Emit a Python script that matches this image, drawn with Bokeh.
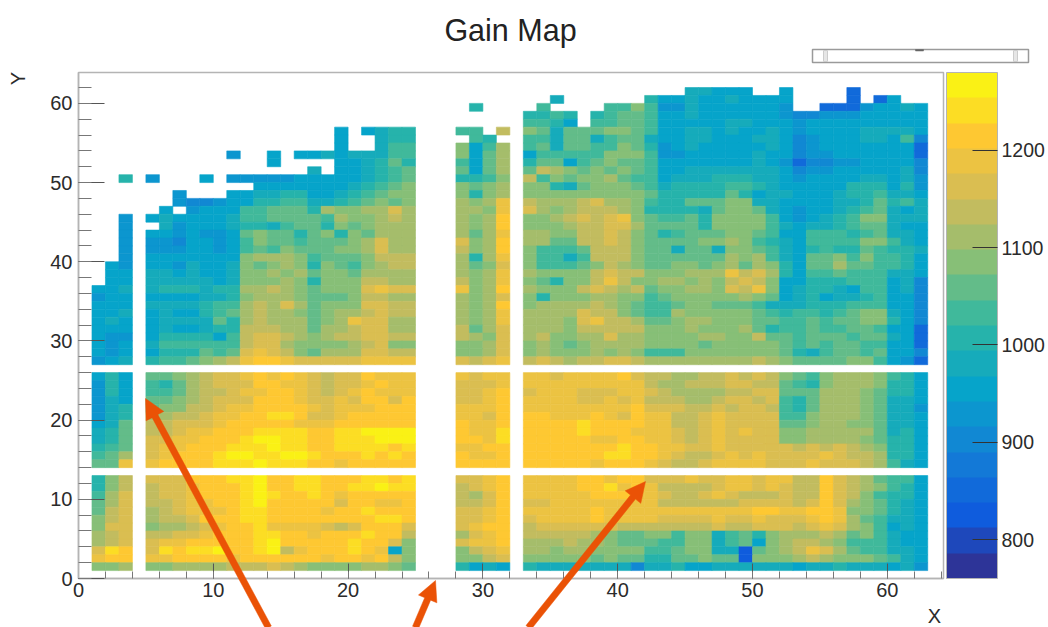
from bokeh.core.properties import value
from bokeh.embed import file_html
from bokeh.layouts import column
from bokeh.models import ColorBar, ColumnDataSource, FixedTicker, LinearColorMapper
from bokeh.plotting import figure
from bokeh.resources import INLINE
import numpy as np

TITLE = "Gain Map"
X_TICKS = [0, 10, 20, 30, 40, 50, 60]
Y_TICKS = [0, 10, 20, 30, 40, 50, 60]
BAR_TICKS = [800, 900, 1000, 1100, 1200]
GAIN_LOW = 760
GAIN_HIGH = 1280
LEVELS = "0123456789abcdefghij"   # 20 contour levels, one character per cell, "." = empty
BLUE_CORRECTION = str.maketrans("456", "567")   # second reading of the blue shades against the colour bar

# each block maps a Y bin to the contour level of its X bins
BLOCK_X1 = {
50:"..9",45:"..5",44:"..5",43:"..5",42:"..5",41:"..5",40:"..5",39:".65",38:".66",37:".77",
36:"778",35:"576",34:"677",33:"678",32:"686",31:"766",30:"755",29:"656",28:"656",27:"568",
25:"697",24:"597",23:"597",22:"587",21:"589",20:"589",19:"78b",18:"89b",17:"89b",16:"9ab",15:"abd",14:"bbg",
12:"9ce",11:"9ce",10:"adf",9:"bdf",8:"bef",7:"cef",6:"cff",5:"def",4:"def",3:"fih",2:"ghh",1:"ccd",
}
BLOCK_X5 = {
56:"..............6.7899",55:"..............6..899",54:"..............6..8aa",
53:"......5..6.6686888aa",52:".........6....6789b9",51:"............8.6789ab",
50:"5...6.555556676789ab",49:"........777767789abc",48:"..5...7788997789abcc",
47:"..54456699aa889abcbc",46:".7.5676aabbb9dccddfd",45:"6866778aabbbbadccded",
44:".856678998abb9cbcddd",43:"7756556bcbb9bc9cbddd",42:"5546657acbbabbbcdfdd",
41:"5556657abacbbbccdfdd",40:"7767767cdddcabbbceee",39:"7758778cbcdc9cbacdee",
38:"8878778ccdcdbccbdddd",37:"8888878cccdc9ccceedd",36:"8999899ddedcbcccfgff",
35:"7777889cdddcbbbceedd",34:"88889aadedfdbcccffee",33:"78779abdeddcbcddefee",
32:"78888b9dedddbcdgffdd",31:"7866899eeeddbddeffdd",30:"799997aeffedcdeeffee",
29:"8aaaaaaeffdccccdefcc",28:"7999babfgfecbdddffee",27:"9aabcdeghhgfffffgggg",
25:"bbcdeffghghgfeffhggg",24:"a9bdefffhhggfeffghgg",23:"aabdeefgghhgfefghggg",
22:"bbcdefffhhhgffgfhhfh",21:"bcceefgghhhhgfggghhh",20:"ddeefgghhiihffghhhhh",
19:"eefffghhhhhggghhhhhh",18:"eefgghhhiiiihhiijjjj",17:"ffgghhhijjiihhiiijjj",
16:"fgghhhiiijiihhiiiihi",15:"fghhhijjiijjihhhihih",14:"ghhhhiiijiiihhghhhhh",
12:"fffhhhiijhhiihhhiihi",11:"effghhhijhhiihhiijii",10:"effghhhijihhihghhhhh",
9:"eefgghhijhhhhhfhhggh",8:"defggghiihhhhghhihhh",7:"deefhhhiihhhhhhhhiih",
6:"cddefghhiggggfefhhhf",5:"eeffghhhiihhghhhihhe",4:"fgghhhhhijhhhhhihhfc",
3:"fihiijhhijeghhhihg7c",2:"gghhhhghhhhhhghhghec",1:"ccddddeeefedccccddcb",
}
BLOCK_X28 = {
59:".9..",56:"aa.e",55:".a9.",54:"c7ad",53:"c7bd",52:"a7bd",51:"b7bd",50:"99ac",49:"cbcd",48:"c9cd",
47:"dcdg",46:"ddcg",45:"dcdh",44:"dcdh",43:"dbdg",42:"fcdh",41:"ecdh",40:"d9dg",39:"dbcf",38:"dcdg",
37:"ecdg",36:"gcdh",35:"dcdf",34:"dcdh",33:"dcdg",32:"dcdg",31:"ebdf",30:"edcf",29:"ccdf",28:"ccdf",27:"fefg",
25:"gfgg",24:"fffg",23:"ffgh",22:"ffgh",21:"gggh",20:"ggfh",19:"hggh",18:"hggi",17:"hhgi",16:"gghh",15:"hggh",14:"hhhh",
12:"ffgh",11:"efgh",10:"edfh",9:"eefh",8:"ffgh",7:"ffgh",6:"fghh",5:"dfgh",4:"fggh",3:"cefg",2:"ccef",1:"9787",
}
BLOCK_X33 = {
61:"............88767..7....3.....",60:"..8......97787787776....3.36..",
59:".a....aaca5587677775..33357787",58:"99a9.9abba66876777754455567776",
57:"aa97.aabba77766886765666677776",56:"cb8bbbccba 6788787786 5677788886",
55:"aa8bb8abb8 6788777886 45677887a4",54:"ab8bbaacb9 5687676786 4566677773",
53:"7aaaaaccca 5576676876 4556667773",52:"9bb7abcbba 6676777875 3445566774",
51:"bedcbcbcba 7788888886 4556677684",50:"eacbccdbaa 7888999887 5666788785",
49:"cc98bcccba 89999aa987 6677999795",48:"cccccccccb 99999b9788 677899a886",
47:"edddefddca 99bbbcc887 666889b9a8",46:"fdcdeeedc9 9998bccb87 56789ab878",
45:"ccdefefgcb aab9cccca7 5789acc888",44:"cccdeeffdb bbb9cccca8 7889abb877",
43:"ddcceefecb 9abbbccba7 6aaa9ab886",42:"ddbbeefecb bbbccdca98 7aaaacca87",
41:"caaabeeecb b8bb8ccba8 79a99ba998",40:"caa8aeeecb bbbbbdcda8 6bbcacaa97",
39:"caaabcedcb bccbcdbdc9 7bbdbbaa97",38:"dccccefeec ccdddgefd9 7aabaaa886",
37:"cb9ccegecc ddcdcefec6 7999aaa784",36:"dcccefedeb ccddcfegc7 89987aa784",
35:"c9cccddcca bcccccdcb7 897889a674",34:"cddddedcba abccbbba88 8999aaa774",
33:"ddddfeecba adcccccba9 aa9abcc874",32:"dddcfgeedb bcddcccbba ababbcc974",
31:"dddceeeeec ccdcccdb9a abaabba763",30:"deccddfddc cccddccebb abbbabb863",
29:"cdcbcddddc cccbcccccb ababbaa763",28:"cdcccdcdca aacccccccb 98abbab764",
27:"efedeeffed dddddddedc bbbbcca653",
25:"ggfgggghfe eddeefefec bacdddca96",24:"ggggggggge ddeeeffeeb a9cdddc996",
23:"fgggfffggf eddddeeffb bbdddcb996",22:"ggggffgfge eeddeffefa 9bdddcb886",
21:"gggggggghf ffeefeffea 9bdddcb885",20:"hhggghgfhg geefgffffa acdddcb886",
19:"hhhhihhhhg geefgffffb bcddccb886",18:"hhhhihhhgg gfefgfgffc cdddddb896",
17:"hhhhhgghhg gfefgffffc cddddcb996",16:"hhhhhhhihh ggffgfffff efefedc996",
15:"hhhhhhiihh gfeefgfgff ffgfeed996",14:"hhhhhghhhg feefggggff fgfffeda86",
12:"gggghhghhf ffgffggfgg eehfedbaa6",11:"gggghhighg eeeefggfgf eehfedca96",
10:"ggggghhhgg feefgfeeef eehfeca996",9:"ffgggggggg eeeeeeffff efhfdcb986",
8:"ggggghgggg ggggggghhg ghhgccb986",7:"fgggghgggg ffffgffgff fghgdba886",
6:"effffffeee eeeefeefff efgfdca786",5:"eeeeedcbbc cacc8ab9cd ddedbca876",
4:"dddeddcbbb aacc8ab7cd eedcaaa876",3:"ddcddcccca abcc882bcd egfdbaa886",
2:"cccccbcbb9 9bbcbb2ccc dedcccba86",1:"9888888848 8977888888 7889888785",
}
BLOCKS = [(1, 3, BLOCK_X1), (5, 20, BLOCK_X5), (28, 4, BLOCK_X28), (33, 30, BLOCK_X33)]

# annotation arrows on the page, in pixels: x_tip, y_tip, x_tail, y_tail
ARROWS = [(145, 398, 268, 627), (435, 580, 415, 627), (645, 481, 528, 627)]

# ROOT kBird palette anchors
R = [0.2082, 0.0592, 0.0780, 0.0232, 0.1802, 0.5301, 0.8186, 0.9956, 0.9764]
G = [0.1664, 0.3599, 0.5041, 0.6419, 0.7178, 0.7492, 0.7328, 0.7862, 0.9832]
B = [0.5293, 0.8684, 0.8385, 0.7914, 0.6425, 0.4662, 0.3499, 0.1968, 0.0539]
stops = np.linspace(0, 1, 9)
pos = (np.arange(20) + 0.5) / 20
palette = ["#%02x%02x%02x" % tuple(int(round(255 * np.interp(t, stops, c))) for c in (R, G, B)) for t in pos]

step = (GAIN_HIGH - GAIN_LOW) / len(LEVELS)
xs, ys, vals = [], [], []
for x0, n, block in BLOCKS:
    for row, text in block.items():
        text = text.replace(" ", "")[:n].translate(BLUE_CORRECTION)
        for i, ch in enumerate(text):
            if ch != ".":
                xs.append(x0 + i + 0.5)
                ys.append(row + 0.5)
                vals.append(GAIN_LOW + step * (LEVELS.index(ch) + 0.5))

FONT = "Liberation Sans"
TEXT = "#2b2b2b"
FRAME = "#b4b4b4"
ORANGE = "#ea5206"

mapper = LinearColorMapper(palette=palette, low=GAIN_LOW, high=GAIN_HIGH)
p = figure(frame_width=865, frame_height=506, x_range=(0, 64.17), y_range=(0, 63.9),
           output_backend="svg", toolbar_location=None, tools="", frame_align=False,
           min_border_left=78, min_border_top=72, min_border_bottom=49, min_border_right=6,
           background_fill_color="white", border_fill_color="white")
p.grid.visible = False
p.outline_line_color = FRAME
p.outline_line_width = 1.5

src = ColumnDataSource(dict(x=xs, y=ys, v=vals))
p.rect("x", "y", width=1, height=1, source=src,
       fill_color={"field": "v", "transform": mapper},
       line_color={"field": "v", "transform": mapper}, line_width=0.6)

minor = list(range(0, 65, 2))
for axis, ticks, major_len in ((p.xaxis[0], X_TICKS, 15), (p.yaxis[0], Y_TICKS, 26)):
    axis.ticker = FixedTicker(ticks=ticks, minor_ticks=minor)
    axis.major_tick_in = major_len
    axis.major_tick_out = 0
    axis.minor_tick_in = major_len // 2
    axis.minor_tick_out = 0
    axis.axis_line_color = FRAME
    axis.axis_line_width = 1.5
    axis.major_tick_line_color = "#555555"
    axis.minor_tick_line_color = "#777777"
    axis.major_label_text_font = FONT
    axis.major_label_text_font_size = "20px"
    axis.major_label_text_color = TEXT
    axis.major_label_standoff = 6
p.xaxis[0].major_label_standoff = 4
p.yaxis[0].major_label_orientation = "horizontal"

bar = ColorBar(color_mapper=mapper, ticker=FixedTicker(ticks=BAR_TICKS), width=51, height=506, padding=0, margin=0,
               location=(3, 0), major_tick_in=25, major_tick_out=0, major_tick_line_color="#333333",
               minor_tick_line_color=None, bar_line_color=FRAME, label_standoff=4,
               major_label_text_font=FONT, major_label_text_font_size="19.5px", major_label_text_color=TEXT)
p.add_layout(bar, "right")

# transparent page-sized layer: title, arrows, axis letters and the widget leave the plotting frame
ov = figure(width=1048, height=627, x_range=(0, 1048), y_range=(627, 0), frame_align=False,
            x_axis_type=None, y_axis_type=None, output_backend="svg", toolbar_location=None, tools="",
            min_border=0, background_fill_color=None, border_fill_color=None, outline_line_color=None,
            margin=(-627, 0, 0, 0))
ov.grid.visible = False

ax_list, ay_list = [], []
for xt, yt, xa, ya in ARROWS:
    dx, dy = xa - xt, ya - yt
    ln = float(np.hypot(dx, dy))
    ux, uy = dx / ln, dy / ln
    nx, ny = -uy, ux
    pts = [(0, 0), (20, 10), (20, 3.2), (ln, 3.2), (ln, -3.2), (20, -3.2), (20, -10)]
    ax_list.append([xt + a * ux + b * nx for a, b in pts])
    ay_list.append([yt + a * uy + b * ny for a, b in pts])
ov.patches(ax_list, ay_list, fill_color=ORANGE, line_color=ORANGE, line_width=0.5)

ov.text([510], [29], text=[TITLE], text_font=value(FONT), text_font_size="30.5px", text_color="#222222",
        text_align="center", text_baseline="middle")
ov.text([934], [615], text=["X"], text_font=value(FONT), text_font_size="20px", text_color=TEXT,
        text_align="center", text_baseline="middle")
ov.text([17], [78], text=["Y"], text_font=value(FONT), text_font_size="20px", text_color=TEXT,
        text_align="center", text_baseline="middle", angle=np.pi / 2)

ov.quad(left=[812], right=[1028], top=[49], bottom=[62], fill_color="white", line_color="#9a9a9a", line_width=1.5)
ov.quad(left=[823, 1013], right=[827, 1017], top=[50, 50], bottom=[61, 61], fill_color="#e6e6e6", line_color="#cccccc")
ov.quad(left=[915], right=[923], top=[49], bottom=[50.5], fill_color="#666666", line_color="#666666", line_width=0.5)

page = column(p, ov, spacing=0)
open("out.html", "w").write(file_html(page, INLINE))
